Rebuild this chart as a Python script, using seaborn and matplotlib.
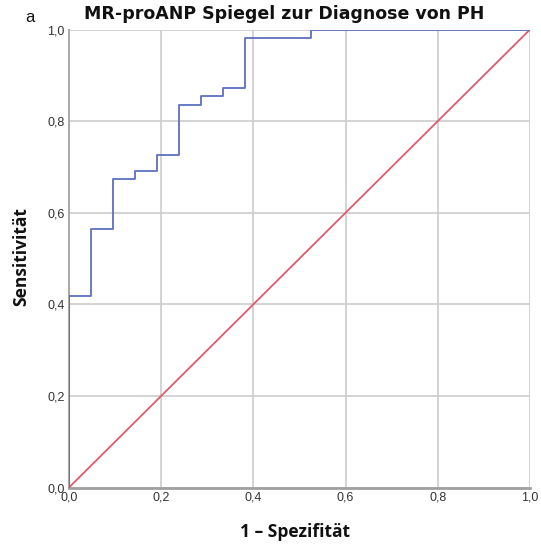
import matplotlib
matplotlib.use("Agg")
import matplotlib.pyplot as plt
import seaborn as sns
import pandas as pd

# ROC step vertices (1 - Spezifität, Sensitivität)
fpr = [0.0, 0.0, 0.048, 0.095, 0.143, 0.190, 0.238, 0.286, 0.333, 0.381, 0.524, 1.0]
tpr = [0.0, 0.418, 0.564, 0.673, 0.691, 0.727, 0.836, 0.855, 0.873, 0.982, 1.0, 1.0]
ref_x = [0.0, 1.0]
ref_y = [0.0, 1.0]
ticks = [0.0, 0.2, 0.4, 0.6, 0.8, 1.0]
tick_labels = ["0,0", "0,2", "0,4", "0,6", "0,8", "1,0"]

sns.set_style("white")
plt.rcParams['font.family'] = ['Liberation Sans', 'DejaVu Sans']

fig = plt.figure(figsize=(5.41, 5.49), dpi=100)
ax = fig.add_axes([69/541, 1-487.5/549, 461/541, 458/549])

roc = pd.DataFrame({"x": fpr, "y": tpr})
ref = pd.DataFrame({"x": ref_x, "y": ref_y})

sns.lineplot(data=ref, x="x", y="y", ax=ax, color="#e05a6c", lw=1.3, sort=False, estimator=None, zorder=3)
sns.lineplot(data=roc, x="x", y="y", ax=ax, color="#5d6fbe", lw=1.3, sort=False, estimator=None,
             drawstyle="steps-post", zorder=4)

ax.set_xlim(0, 1)
ax.set_ylim(0, 1)
ax.set_xticks(ticks)
ax.set_yticks(ticks)
ax.set_xticklabels(tick_labels)
ax.set_yticklabels(tick_labels)
ax.tick_params(axis="both", length=0, labelsize=9, colors="#333333", pad=3)
ax.grid(True, color="#cccccc", lw=1.2)
ax.set_axisbelow(True)
for s in ["top", "right"]:
    ax.spines[s].set_visible(False)
ax.spines["left"].set_color("#aaaaaa")
ax.spines["left"].set_linewidth(1.5)
ax.spines["bottom"].set_color("#a0a0a0")
ax.spines["bottom"].set_linewidth(2)
ax.set_xlabel("")
ax.set_ylabel("")

fig.text(284.5/541, 1-14/549, "MR-proANP Spiegel zur Diagnose von PH", ha="center", va="center",
         fontsize=12.5, fontweight="bold", family=["DejaVu Sans"], color="#111111")
fig.text(30/541, 1-18/549, "a", ha="center", va="center", fontsize=12, color="#111111")
fig.text(295/541, 1-532/549, "1 – Spezifität", ha="center", va="center",
         fontsize=12.5, fontweight="bold", family=["Open Sans", "DejaVu Sans"], color="#111111")
fig.text(21/541, 1-257/549, "Sensitivität", ha="center", va="center", rotation=90,
         fontsize=12.5, fontweight="bold", family=["Open Sans", "DejaVu Sans"], color="#111111")

fig.savefig("out.png", dpi=100, facecolor="white")
